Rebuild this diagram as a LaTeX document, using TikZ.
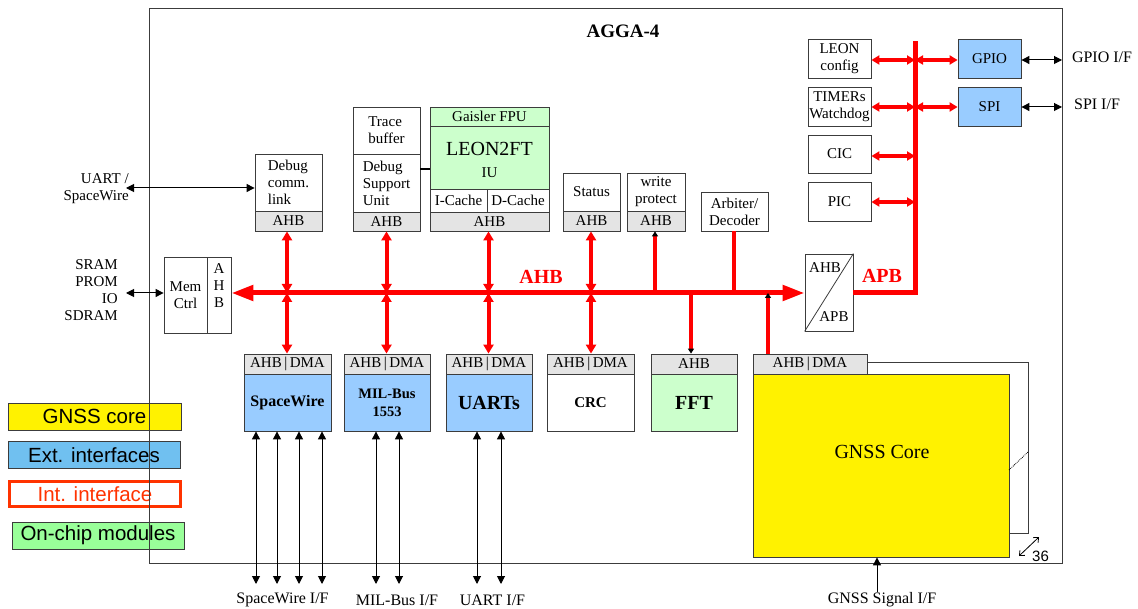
\documentclass[tikz,border=0pt]{standalone}
\usepackage{fontspec}
\setmainfont{Liberation Serif}
\setsansfont{Liberation Sans}
\usetikzlibrary{arrows.meta}
\definecolor{bandgrey}{RGB}{228,228,228}
\definecolor{extblue}{RGB}{153,204,255}
\definecolor{chipgreen}{RGB}{204,255,204}
\definecolor{leggreen}{RGB}{153,255,153}
\definecolor{legblue}{RGB}{112,192,240}
\definecolor{intred}{RGB}{255,51,0}
\definecolor{edge}{RGB}{60,60,60}
\newcommand\fsn{\fontsize{15}{17}\selectfont}
\newcommand\fsb{\fontsize{20}{22}\selectfont}
\begin{document}
\begin{tikzpicture}[x=1pt,y=-1pt,
  bx/.style={draw=edge, line width=0.8pt, inner sep=1pt, font=\fsn, align=center},
  sz/.style 2 args={minimum width=#1pt, minimum height=#2pt},
  band/.style={bx, fill=bandgrey},
  txt/.style={inner sep=0pt, font=\fsn, align=center},
  rbus/.style={draw=red, line width=5pt},
  rdbl/.style={draw=red, line width=4pt, {Triangle[length=9pt,width=10pt]}-{Triangle[length=9pt,width=10pt]}},
  rh/.style={draw=red, line width=3.5pt, {Triangle[length=8pt,width=9pt]}-{Triangle[length=8pt,width=9pt]}},
  rone/.style={draw=red, line width=3.5pt, -{Triangle[length=5pt,width=6pt,color=black]}},
  bdbl/.style={draw=black, line width=1pt, {Triangle[length=8pt,width=8pt]}-{Triangle[length=8pt,width=8pt]}},
  bone/.style={draw=black, line width=1pt, -{Triangle[length=8pt,width=8pt]}},
  leg/.style={draw=edge, line width=0.8pt, font=\sffamily\fontsize{20.5}{23}\selectfont, minimum width=172pt, minimum height=27pt, inner sep=0pt},
]
\useasboundingbox (0,0) rectangle (1138,609);
\fill[white] (0,0) rectangle (1138,609);

% legend
\node[leg, fill=yellow, minimum width=173pt] (lg1) at (94.5,416.5) {GNSS core};
\node[leg, fill=legblue] (lg2) at (94,455) {Ext. interfaces};
\node[leg, draw=intred, line width=3pt, text=intred, minimum width=171pt, minimum height=25pt] (lg3) at (95,494) {Int. interface};
\node[leg, fill=leggreen] (lg4) at (98,535.5) {On-chip modules};

% chip frame
\node[draw=edge, line width=1pt, minimum width=913pt, minimum height=554pt, inner sep=0pt] (chip) at (605.5,286) {};
\node[txt, font=\fontsize{19}{22}\selectfont\bfseries] (title) at (623,31) {AGGA-4};

% debug comm link
\node[bx, sz={67}{57}, align=left] (dbg) at (288.5,182.5) {Debug\\comm.\\link};
\node[band, sz={67}{20}] (dbgahb) at (288.5,221) {AHB};

% DSU
\node[bx, sz={67}{47}, align=left] (trace) at (386.5,130.5) {Trace\\buffer};
\node[bx, sz={67}{58}, align=left] (dsu) at (386.5,183) {Debug\\Support\\Unit};
\node[band, sz={67}{19}] (dsuahb) at (386.5,221.5) {AHB};

% LEON
\node[bx, fill=chipgreen, sz={119}{19}] (fpu) at (489.5,116.5) {Gaisler FPU};
\node[bx, fill=chipgreen, sz={119}{63}] (leon) at (489.5,157.5) {};
\node[txt, font=\fsb] (leonname) at (489.5,149) {LEON2FT};
\node[txt] (iu) at (489.5,173) {IU};
\node[bx, sz={57}{23}] (icache) at (458.5,200.5) {I-Cache};
\node[bx, sz={62}{23}] (dcache) at (518,200.5) {D-Cache};
\node[band, sz={119}{19}] (leonahb) at (489.5,221.5) {AHB};
\coordinate (dl) at (420,169);
\draw[black, line width=1.5pt] (dl) -- (dl -| leon.west);

% status, write protect, arbiter
\node[bx, sz={57}{38}] (status) at (591.5,192) {Status};
\node[band, sz={57}{20}] (statusahb) at (591.5,221) {AHB};
\node[bx, sz={58}{38}] (wp) at (656,192) {write\\protect};
\node[band, sz={58}{20}] (wpahb) at (656,221) {AHB};
\node[bx, sz={67}{39}] (arb) at (734.5,211.5) {Arbiter/\\Decoder};

% mem ctrl
\node[bx, sz={43}{76}] (mem) at (185.5,295) {Mem\\Ctrl};
\node[bx, sz={24}{76}] (memahb) at (219,295) {};
\node[txt] (memahbt) at (219,286) {A\\H\\B};

% bridge
\node[bx, sz={48}{77}] (bridge) at (829,292.5) {};
\draw[edge, line width=0.8pt] (bridge.south west) -- (bridge.north east);
\node[txt] (brahb) at (825,268) {AHB};
\node[txt] (brapb) at (834,317) {APB};

% bottom modules
\node[band, sz={87}{20}] (swband) at (287.5,364) {AHB\,|\,DMA};
\node[bx, fill=extblue, sz={87}{57}, font=\fontsize{16}{18}\selectfont\bfseries] (sw) at (287.5,402.5) {SpaceWire};
\node[band, sz={86}{20}] (milband) at (387,364) {AHB\,|\,DMA};
\node[bx, fill=extblue, sz={86}{57}, font=\fontsize{14.5}{18}\selectfont\bfseries] (mil) at (387,402.5) {MIL-Bus\\1553};
\node[band, sz={86}{20}] (uaband) at (489,364) {AHB\,|\,DMA};
\node[bx, fill=extblue, sz={86}{57}, font=\fontsize{20}{22}\selectfont\bfseries] (uarts) at (489,402.5) {UARTs};
\node[band, sz={87}{20}] (crcband) at (590.5,364) {AHB\,|\,DMA};
\node[bx, sz={87}{57}, font=\fontsize{15}{17}\selectfont\bfseries] (crc) at (590.5,402.5) {CRC};
\node[band, sz={86}{20}] (fftband) at (694,364) {AHB};
\node[bx, fill=chipgreen, sz={86}{57}, font=\fontsize{20}{22}\selectfont\bfseries] (fft) at (694,402.5) {FFT};

% GNSS core
\node[bx, fill=white, sz={275}{171}] (gback) at (890.5,447.5) {};
\node[band, sz={114}{20}] (gtab) at (810,364) {AHB\,|\,DMA};
\node[bx, fill=yellow, sz={256}{183}] (gnss) at (881,465.5) {};
\node[txt, font=\fsb] (gtext) at (882,452) {GNSS Core};
\coordinate (d1) at (1009,470);
\coordinate (d2) at (1028,452);
\draw[densely dotted, line width=0.8pt] (d1) -- (d2);
\coordinate (m1) at (1019,556);
\coordinate (m2) at (1039,537);
\draw[line width=0.8pt, {Straight Barb[length=4pt,width=7pt]}-{Straight Barb[length=4pt,width=7pt]}] (m1) -- (m2);
\node[txt, font=\sffamily\fontsize{15}{17}\selectfont, anchor=west] (n36) at (1032,556) {36};
\coordinate (gsig) at (877,592);
\draw[bone] (gsig) -- (gsig |- gnss.south);
\node[txt, font=\fontsize{16}{18}\selectfont] (gsiglbl) at (882,600) {GNSS Signal I/F};

% right side APB peripherals
\node[bx, sz={63}{39}] (lcfg) at (839.5,58.5) {LEON\\config};
\node[bx, sz={63}{39}] (tim) at (839.5,106.5) {TIMERs\\Watchdog};
\node[bx, sz={63}{38}] (cic) at (839.5,154) {CIC};
\node[bx, sz={63}{39}] (pic) at (839.5,201.5) {PIC};
\node[bx, fill=extblue, sz={63}{39}] (gpio) at (989.5,58.5) {GPIO};
\node[bx, fill=extblue, sz={63}{39}] (spi) at (989.5,106.5) {SPI};

% AHB bus
\coordinate (j1) at (287,293);
\coordinate (j2) at (386.5,293);
\coordinate (j3) at (488.5,293);
\coordinate (j4) at (591,293);
\coordinate (j5) at (655,293);
\coordinate (j6) at (691,293);
\coordinate (j7) at (734,293);
\coordinate (j8) at (768,293);
\draw[rbus, {Triangle[length=22pt,width=15pt]}-{Triangle[length=22pt,width=15pt]}] (memahb.east |- j1) -- (bridge.west |- j1);
\node[txt, text=red, font=\fontsize{20}{22}\selectfont\bfseries] (ahblbl) at (541,277) {AHB};

\draw[rdbl] (j1) -- (j1 |- dbgahb.south);
\draw[rdbl] (j1) -- (j1 |- swband.north);
\draw[rdbl] (j2) -- (j2 |- dsuahb.south);
\draw[rdbl] (j2) -- (j2 |- milband.north);
\draw[rdbl] (j3) -- (j3 |- leonahb.south);
\draw[rdbl] (j3) -- (j3 |- uaband.north);
\draw[rdbl] (j4) -- (j4 |- statusahb.south);
\draw[rdbl] (j4) -- (j4 |- crcband.north);
\draw[rone] (j5) -- (j5 |- wpahb.south);
\draw[rone] (j6) -- (j6 |- fftband.north);
\draw[draw=red, line width=3.5pt] (j7 |- arb.south) -- (j7);
\draw[rone] (j8 |- gtab.north) -- (j8);

% APB bus
\coordinate (apbc) at (915,292.5);
\coordinate (apbt) at (915,41);
\draw[rbus] (bridge.east) -- (apbc) -- (apbt);
\node[txt, text=red, font=\fontsize{20}{22}\selectfont\bfseries] (apblbl) at (882,276) {APB};
\coordinate (r1) at (915,60);
\coordinate (r2) at (915,107);
\coordinate (r3) at (915,156);
\coordinate (r4) at (915,202);
\draw[rh] (lcfg.east |- r1) -- (r1);
\draw[rh] (r1) -- (gpio.west |- r1);
\draw[rh] (tim.east |- r2) -- (r2);
\draw[rh] (r2) -- (spi.west |- r2);
\draw[rh] (cic.east |- r3) -- (r3);
\draw[rh] (pic.east |- r4) -- (r4);

% external interfaces right
\coordinate (e1) at (1062,60);
\coordinate (e2) at (1062,107);
\draw[bdbl] (gpio.east |- e1) -- (e1);
\draw[bdbl] (spi.east |- e2) -- (e2);
\node[txt, font=\fontsize{16}{18}\selectfont] (gpioif) at (1102,57) {GPIO I/F};
\node[txt, font=\fontsize{16}{18}\selectfont] (spiif) at (1097,104) {SPI I/F};

% external interfaces left
\coordinate (ua) at (126,188);
\draw[bdbl] (ua) -- (ua -| dbg.west);
\node[txt, anchor=east, align=right] (ualbl) at (129,188.5) {UART /\\SpaceWire};
\coordinate (sa) at (126,293);
\draw[bdbl] (sa) -- (sa -| mem.west);
\node[txt, anchor=east, align=right] (salbl) at (118,290) {SRAM\\PROM\\IO\\SDRAM};

% external interfaces bottom
\coordinate (b1) at (256,584);
\coordinate (b2) at (277,584);
\coordinate (b3) at (299,584);
\coordinate (b4) at (322,584);
\coordinate (b5) at (376,584);
\coordinate (b6) at (399,584);
\coordinate (b7) at (477,584);
\coordinate (b8) at (501,584);
\draw[bdbl] (b1) -- (b1 |- sw.south);
\draw[bdbl] (b2) -- (b2 |- sw.south);
\draw[bdbl] (b3) -- (b3 |- sw.south);
\draw[bdbl] (b4) -- (b4 |- sw.south);
\draw[bdbl] (b5) -- (b5 |- mil.south);
\draw[bdbl] (b6) -- (b6 |- mil.south);
\draw[bdbl] (b7) -- (b7 |- uarts.south);
\draw[bdbl] (b8) -- (b8 |- uarts.south);
\node[txt, font=\fontsize{16}{18}\selectfont] (swif) at (282.5,600) {SpaceWire I/F};
\node[txt, font=\fontsize{16}{18}\selectfont] (milif) at (397,600) {MIL-Bus I/F};
\node[txt, font=\fontsize{16}{18}\selectfont] (uartif) at (492.5,600) {UART I/F};
\end{tikzpicture}
\end{document}
